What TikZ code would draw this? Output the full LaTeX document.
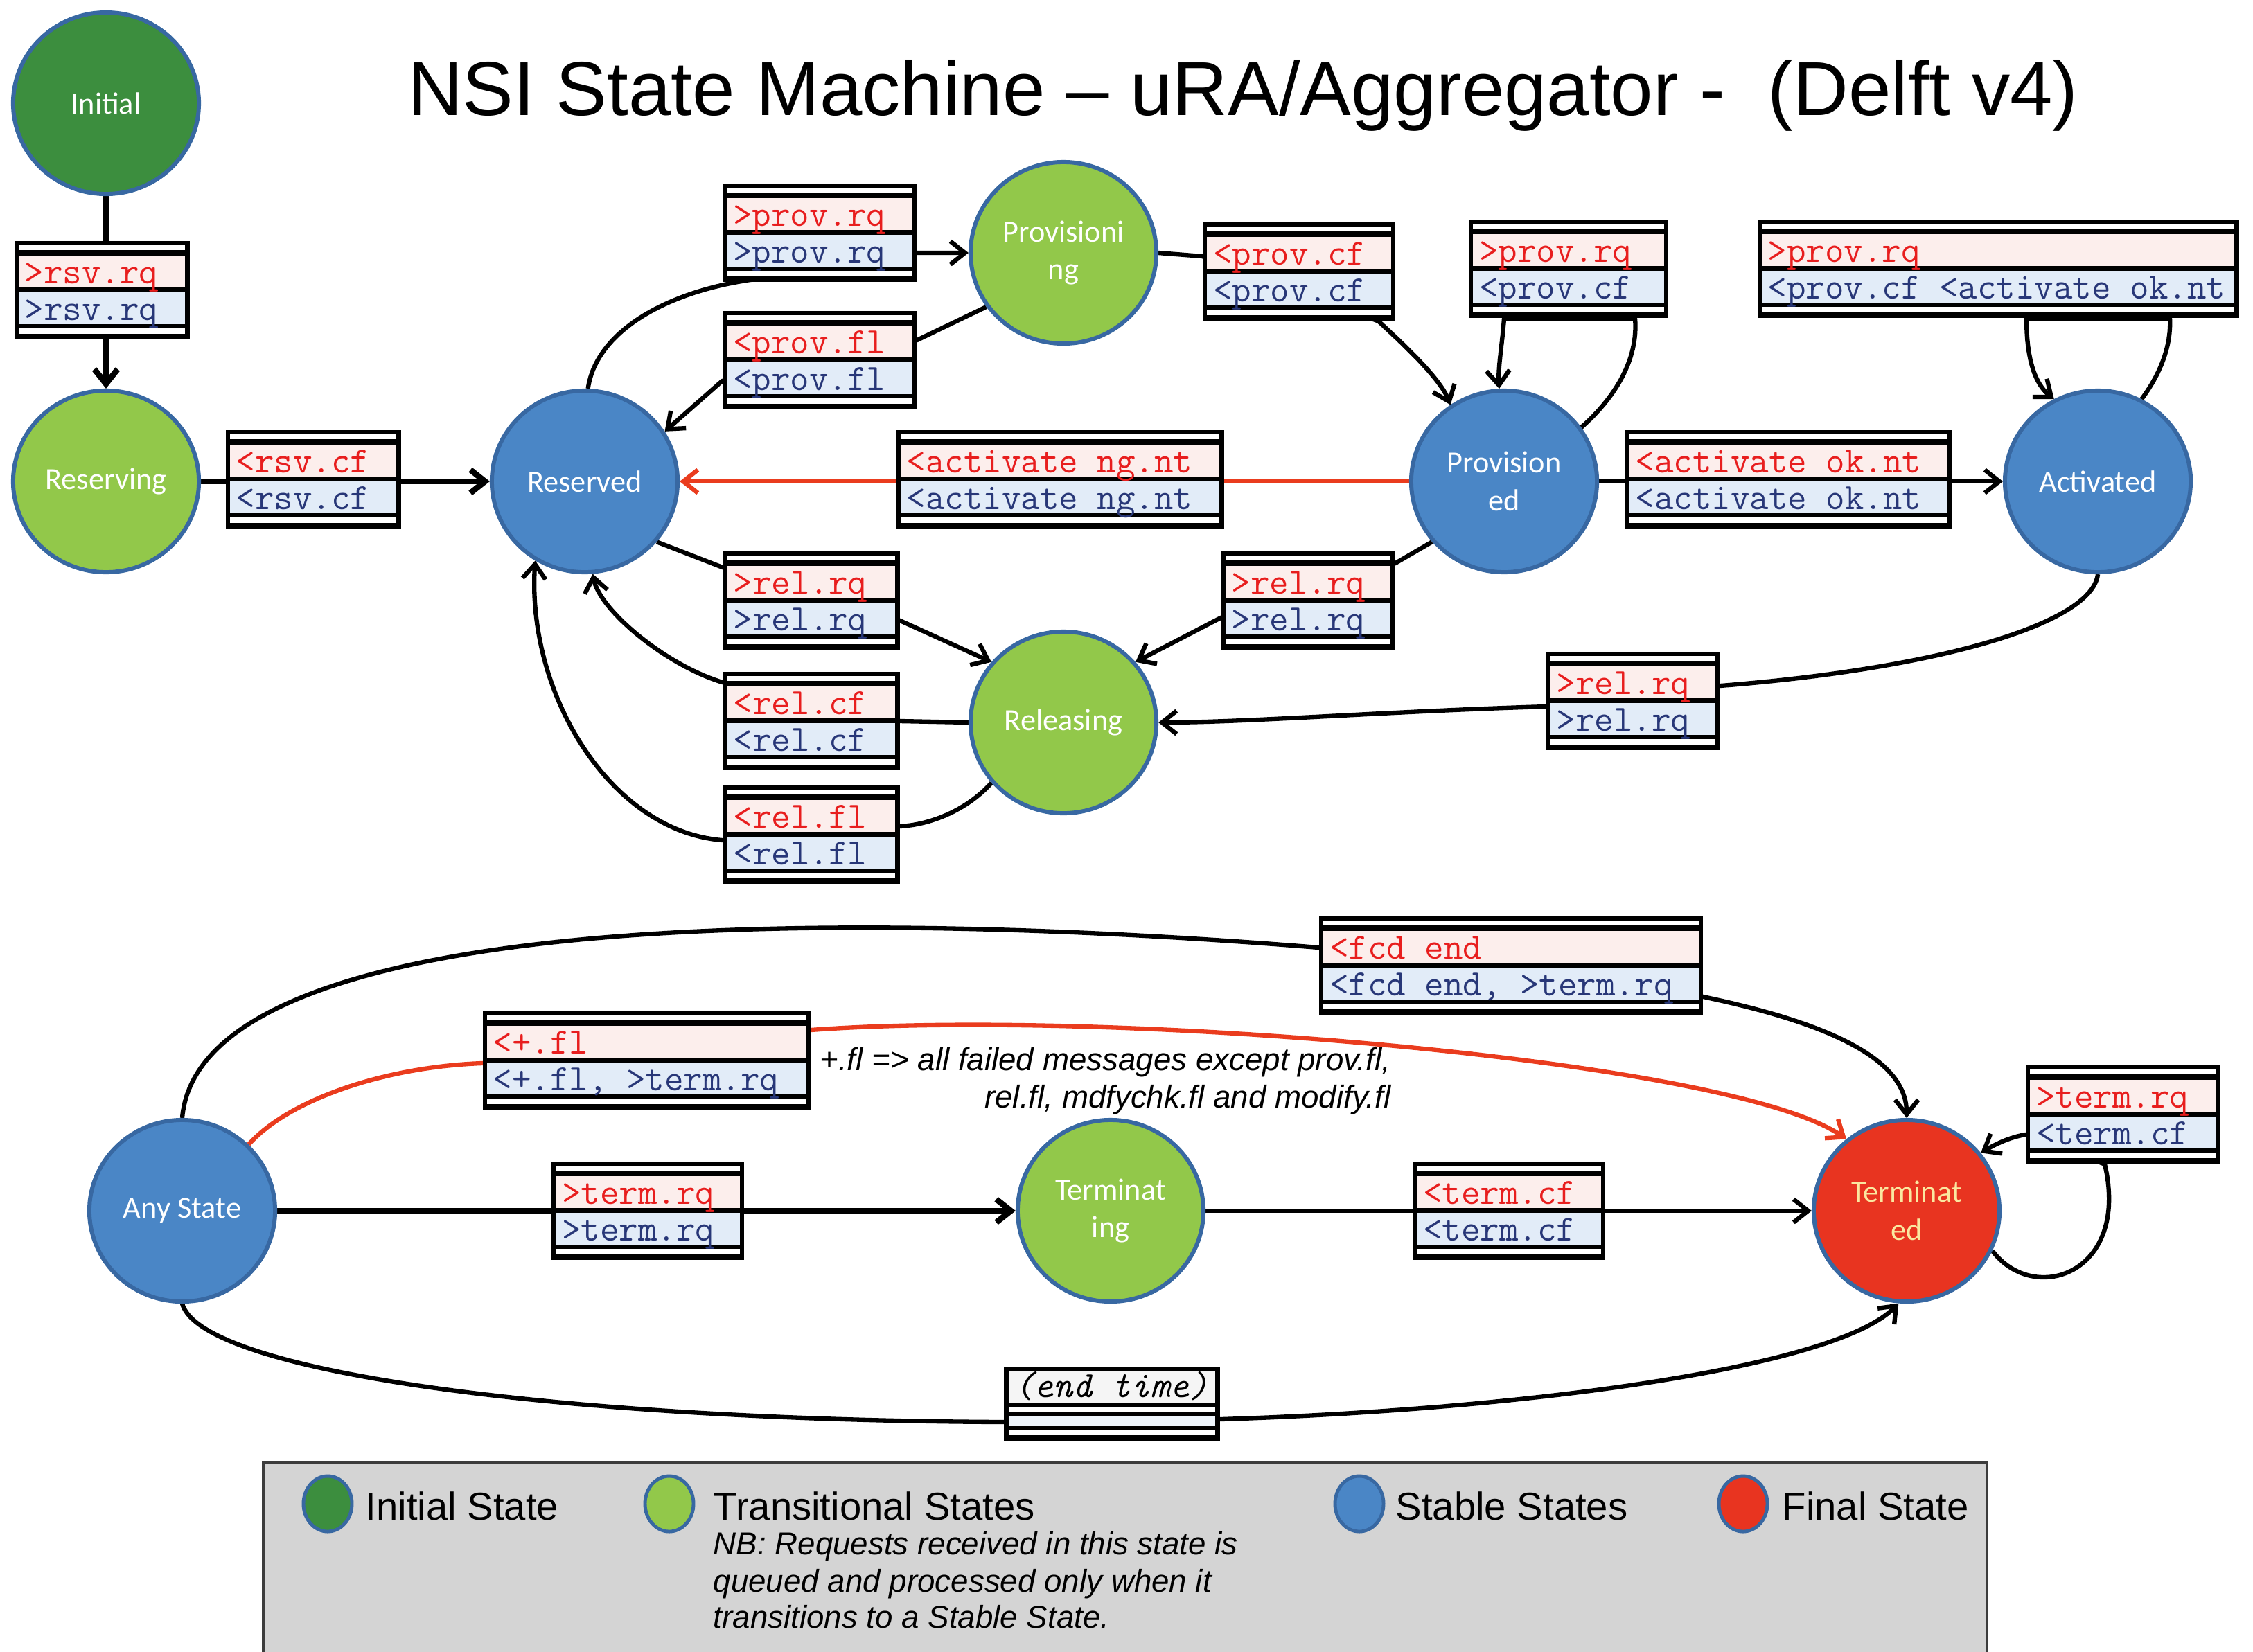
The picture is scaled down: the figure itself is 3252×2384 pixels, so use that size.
\documentclass[tikz,border=0pt]{standalone}
\usepackage{fontspec}
\setmainfont{Liberation Sans}
\newfontfamily\statefont{Carlito}
\usetikzlibrary{shapes.geometric, arrows.meta, calc}
\pgfdeclarelayer{back}
\pgfdeclarelayer{bg}
\pgfsetlayers{back,bg,main}

\definecolor{initgreen}{RGB}{60,142,62}
\definecolor{transgreen}{RGB}{146,200,74}
\definecolor{stableblue}{RGB}{74,134,198}
\definecolor{finalred}{RGB}{232,52,32}
\definecolor{stateborder}{RGB}{56,104,162}
\definecolor{finaltext}{RGB}{250,232,160}
\definecolor{msgred}{RGB}{232,30,30}
\definecolor{msgblue}{RGB}{40,55,120}
\definecolor{rowpink}{RGB}{252,238,236}
\definecolor{rowblue}{RGB}{226,236,248}
\definecolor{linered}{RGB}{234,60,30}
\definecolor{legendgray}{RGB}{212,212,212}
\definecolor{legendedge}{RGB}{60,60,60}

% message box: name, x, y, width, upper (red) text, lower (blue) text
\newcommand{\msgbox}[6]{%
  \node[msgframe, minimum width=#4*0.01cm] (#1) at (#2,#3) {};
  \fill[white] ($(#1.north west)+(7,7)$) rectangle ($(#1.north east)+(-7,14)$);
  \fill[rowpink] ($(#1.north west)+(7,22)$) rectangle ($(#1.north east)+(-7,68)$);
  \fill[rowblue] ($(#1.north west)+(7,75)$) rectangle ($(#1.north east)+(-7,121)$);
  \fill[white] ($(#1.north west)+(7,127)$) rectangle ($(#1.north east)+(-7,135)$);
  \node[msgtext, text=msgred] (#1-up) at ($(#1.north west)+(15,62)$) {#5};
  \node[msgtext, text=msgblue] (#1-dn) at ($(#1.north west)+(15,115)$) {#6};
}

\begin{document}
\begin{tikzpicture}[x=0.01cm, y=-0.01cm,
  state/.style={ellipse, minimum width=2.68cm, minimum height=2.62cm, inner sep=0pt,
    line width=1.7pt, draw=stateborder, text=white, align=center,
    font=\statefont\fontsize{12.6}{15.5}\selectfont},
  initstate/.style={state, fill=initgreen},
  transstate/.style={state, fill=transgreen},
  stablestate/.style={state, fill=stableblue},
  finalstate/.style={state, fill=finalred, text=finaltext},
  conn/.style={line width=1.8pt, -{Straight Barb[length=6pt,width=9.5pt]}},
  heavy/.style={conn, line width=2.4pt},
  redconn/.style={conn, draw=linered},
  msgframe/.style={rectangle, fill=black, inner sep=0pt, minimum height=1.42cm},
  msgtext/.style={anchor=base west, inner sep=0pt, font=\ttfamily\fontsize{15.2}{18}\selectfont},
  legendstate/.style={ellipse, minimum width=0.7cm, minimum height=0.8cm, inner sep=0pt,
    line width=1.4pt, draw=stateborder},
  legendtext/.style={anchor=base west, inner sep=0pt, font=\fontsize{16}{19}\selectfont},
  nbtext/.style={anchor=base west, inner sep=0pt, font=\itshape\fontsize{13}{15.5}\selectfont},
  note/.style={anchor=base east, inner sep=0pt, font=\itshape\fontsize{13}{15.5}\selectfont}
]
\useasboundingbox (0,0) rectangle (3252,2384);
\begin{pgfonlayer}{back}
  \fill[white] (0,0) rectangle (3252,2384);
\end{pgfonlayer}

% title
\node[anchor=base, inner sep=0pt, font=\fontsize{31.4}{38}\selectfont] (title) at (1794,166)
  {NSI State Machine – uRA/Aggregator -\ \ (Delft v4)};

% states
\node[initstate]   (Initial)      at (153,149)  {Initial};
\node[transstate]  (Reserving)    at (153,695)  {Reserving};
\node[stablestate] (Reserved)     at (844,695)  {Reserved};
\node[transstate]  (Provisioning) at (1535,365) {Provisioni\\ng};
\node[stablestate] (Provisioned)  at (2171,695) {Provision\\ed};
\node[stablestate] (Activated)    at (3028,695) {Activated};
\node[transstate]  (Releasing)    at (1535,1043){Releasing};
\node[stablestate] (AnyState)     at (263,1748) {Any State};
\node[transstate]  (Terminating)  at (1603,1748){Terminat\\ing};
\node[finalstate]  (Terminated)   at (2752,1748){Terminat\\ed};

% message boxes
\msgbox{bRsvRq}{147}{419}{253}{>rsv.rq}{>rsv.rq}
\msgbox{bRsvCf}{452}{692}{253}{<rsv.cf}{<rsv.cf}
\msgbox{bProvRq}{1183}{336}{280}{>prov.rq}{>prov.rq}
\msgbox{bProvFl}{1183}{520}{280}{<prov.fl}{<prov.fl}
\msgbox{bProvCf}{1875}{392}{278}{<prov.cf}{<prov.cf}
\msgbox{bProvLoop}{2264}{388}{288}{>prov.rq}{<prov.cf}
\msgbox{bActLoop}{2884}{388}{695}{>prov.rq}{<prov.cf <activate ok.nt}
\msgbox{bActNg}{1530}{692}{473}{<activate ng.nt}{<activate ng.nt}
\msgbox{bActOk}{2581}{692}{471}{<activate ok.nt}{<activate ok.nt}
\msgbox{bRelRqL}{1171}{867}{255}{>rel.rq}{>rel.rq}
\msgbox{bRelRqR}{1888}{867}{251}{>rel.rq}{>rel.rq}
\msgbox{bRelCf}{1171}{1041}{255}{<rel.cf}{<rel.cf}
\msgbox{bRelFl}{1171}{1205}{255}{<rel.fl}{<rel.fl}
\msgbox{bRelRqA}{2357}{1012}{251}{>rel.rq}{>rel.rq}
\msgbox{bFcd}{2181}{1394}{554}{<fcd end}{<fcd end, >term.rq}
\msgbox{bFail}{933}{1531}{473}{<+.fl}{<+.fl, >term.rq}
\msgbox{bTermRq}{935}{1748}{278}{>term.rq}{>term.rq}
\msgbox{bTermCf}{2178}{1748}{278}{<term.cf}{<term.cf}
\msgbox{bTermLoop}{3064}{1609}{280}{>term.rq}{<term.cf}

% end-time box
\node[msgframe, minimum width=3.11cm, minimum height=1.06cm] (bEnd) at (1605,2027) {};
\fill[black!4] ($(bEnd.north west)+(7,7)$) rectangle ($(bEnd.north east)+(-7,52)$);
\fill[white] ($(bEnd.north west)+(7,59)$) rectangle ($(bEnd.north east)+(-7,65)$);
\fill[rowblue!60] ($(bEnd.north west)+(7,71)$) rectangle ($(bEnd.north east)+(-7,86)$);
\fill[white] ($(bEnd.north west)+(7,92)$) rectangle ($(bEnd.north east)+(-7,99)$);
\node[msgtext, font=\ttfamily\itshape\fontsize{15.2}{18}\selectfont] (bEnd-txt)
  at ($(bEnd.north west)+(15,44)$) {(end time)};

% note on the failure transition
\node[note] (note1) at (2008,1545) {+.fl => all failed messages except prov.fl,};
\node[note] (note2) at (2008,1599) {rel.fl, mdfychk.fl and modify.fl};

% transitions
\begin{pgfonlayer}{bg}
  \draw[heavy] (Initial) -- (Reserving);
  \draw[heavy] (Reserving) -- (Reserved);
  \draw[conn] (Reserved.88) .. controls (860,480) and (960,420) .. ($(bProvRq.south west)+(50,-5)$)
    -- ($(bProvRq.east)+(0,29)$) -- (Provisioning.west |- {$(bProvRq.east)+(0,29)$});
  \draw[conn] (Provisioning.-145) -- ($(bProvFl.east)+(0,-29)$)
    -- ($(bProvFl.west)+(0,30)$) -- (Reserved.32);
  \draw[conn] (Provisioning.east) -- ($(bProvCf.west)+(0,-22)$)
    -- ($(bProvCf.south east)+(-25,0)$) .. controls (2040,510) and (2080,550) .. (Provisioned.125);
  \draw[conn] (Provisioned.35) .. controls (2330,575) and (2365,520) .. ($(bProvLoop.south)+(96,0)$)
    -- ($(bProvLoop.south)+(-93,0)$) .. controls (2168,500) and (2162,530) .. (Provisioned.93);
  \draw[conn] (Activated.62) .. controls (3118,540) and (3134,500) .. ($(bActLoop.south)+(248,0)$)
    -- ($(bActLoop.south)+(41,0)$) .. controls (2925,520) and (2938,555) .. (Activated.118);
  \draw[redconn] (Provisioned.west) -- (Reserved.east);
  \draw[conn] (Provisioned.east) -- (Activated.west);
  \draw[conn] (Reserved.-40) -- ($(bRelRqL.west)+(0,-48)$)
    -- ($(bRelRqL.east)+(0,29)$) -- (Releasing.140);
  \draw[conn] (Provisioned.-140) -- ($(bRelRqR.east)+(0,-54)$)
    -- ($(bRelRqR.west)+(0,25)$) -- (Releasing.40);
  \draw[conn] (Activated.south) .. controls (3020,900) and (2800,965) .. ($(bRelRqA.east)+(0,-22)$)
    -- ($(bRelRqA.west)+(0,8)$) .. controls (2000,1027) and (1800,1043) .. (Releasing.east);
  \draw[conn] (Releasing.west) -- (bRelCf.east) -- ($(bRelCf.west)+(0,-56)$)
    .. controls (960,960) and (865,880) .. (Reserved.-85);
  \draw[conn] (Releasing.-140) .. controls (1400,1165) and (1350,1190) .. ($(bRelFl.east)+(0,-12)$)
    -- ($(bRelFl.west)+(0,8)$) .. controls (880,1200) and (760,1000) .. (Reserved.-122);
  \draw[heavy] (AnyState) -- (Terminating);
  \draw[conn] (Terminating) -- (Terminated);
  \draw[conn] (AnyState.north) .. controls (290,1300) and (1300,1300) .. (bFcd.center)
    .. controls (2450,1430) and (2752,1480) .. (Terminated.north);
  \draw[redconn] (AnyState.45) .. controls (420,1585) and (560,1540) .. ($(bFail.west)+(0,4)$)
    -- ($(bFail.east)+(0,-44)$) .. controls (1600,1455) and (2500,1530) .. (Terminated.130);
  \draw[conn] (AnyState.south) .. controls (290,1980) and (800,2050) .. ($(bEnd.west)+(0,26)$)
    -- ($(bEnd.east)+(0,22)$) .. controls (2200,2035) and (2650,1975) .. (Terminated.-95);
  \draw[conn] (Terminated.-25) .. controls (2935,1885) and (3075,1840) .. ($(bTermLoop.south)+(-26,0)$)
    -- ($(bTermLoop.west)+(0,29)$) .. controls (2900,1642) and (2880,1652) .. (Terminated.38);
\end{pgfonlayer}

% legend
\draw[fill=legendgray, draw=legendedge, line width=1pt] (380,2111) rectangle (2868,2400);
\node[legendstate, fill=initgreen]  (lgInit)   at (473,2171) {};
\node[legendtext] (lgInitTxt) at (527,2194) {Initial State};
\node[legendstate, fill=transgreen] (lgTrans)  at (966,2171) {};
\node[legendtext] (lgTransTxt) at (1029,2194) {Transitional States};
\node[nbtext] (nb1) at (1029,2244) {NB: Requests received in this state is};
\node[nbtext] (nb2) at (1029,2298) {queued and processed only when it};
\node[nbtext] (nb3) at (1029,2350) {transitions to a Stable State.};
\node[legendstate, fill=stableblue] (lgStable) at (1962,2171) {};
\node[legendtext] (lgStableTxt) at (2014,2194) {Stable States};
\node[legendstate, fill=finalred]   (lgFinal)  at (2516,2171) {};
\node[legendtext] (lgFinalTxt) at (2572,2194) {Final State};
\end{tikzpicture}
\end{document}
